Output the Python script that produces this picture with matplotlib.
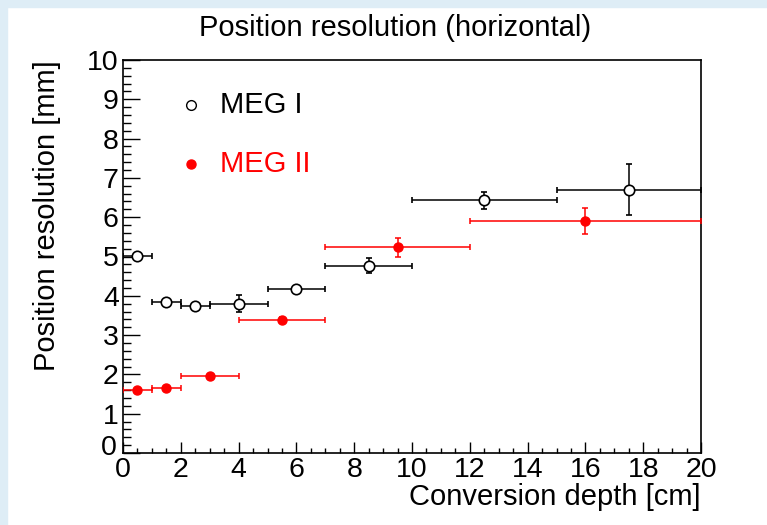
import matplotlib
matplotlib.use("Agg")
from matplotlib import pyplot as plt
from matplotlib.ticker import MultipleLocator, FuncFormatter
import matplotlib.transforms as mtransforms
import numpy as np

plt.rcParams['font.family'] = ['Liberation Sans', 'DejaVu Sans']

# MEG I (open circles)
meg1_x = [0.5, 1.5, 2.5, 4.0, 6.0, 8.5, 12.5, 17.5]
meg1_xerr = [0.5, 0.5, 0.5, 1.0, 1.0, 1.5, 2.5, 2.5]
meg1_y = [5.01, 3.83, 3.75, 3.80, 4.18, 4.76, 6.43, 6.70]
meg1_yerr = [0.05, 0.05, 0.05, 0.22, 0.07, 0.19, 0.22, 0.65]

# MEG II (red filled)
meg2_x = [0.5, 1.5, 3.0, 5.5, 9.5, 16.0]
meg2_xerr = [0.5, 0.5, 1.0, 1.5, 2.5, 4.0]
meg2_y = [1.60, 1.65, 1.97, 3.39, 5.23, 5.91]
meg2_yerr = [0.04, 0.04, 0.05, 0.08, 0.25, 0.335]

W, H = 767, 525
fig = plt.figure(figsize=(W / 100, H / 100), dpi=100)
fig.patch.set_facecolor('white')

# light blue strips at top and left (window frame)
fig.patches.append(plt.Rectangle((0, 1 - 7 / H), 1, 7 / H, transform=fig.transFigure,
                                 color='#deedf6', zorder=0))
fig.patches.append(plt.Rectangle((0, 0), 7 / W, 1, transform=fig.transFigure,
                                 color='#deedf6', zorder=0))

x0, x1, ytop, ybot = 123, 701, 60, 453
ax = fig.add_axes([x0 / W, (H - ybot) / H, (x1 - x0) / W, (ybot - ytop) / H])
ax.set_xlim(0, 20)
ax.set_ylim(0, 10)

ax.errorbar(meg1_x, meg1_y, xerr=meg1_xerr, yerr=meg1_yerr, fmt='o', color='black',
            mfc='white', mec='black', ms=7.5, mew=1.2, elinewidth=1.1, capsize=2,
            capthick=1.1, zorder=3)
ax.errorbar(meg2_x, meg2_y, xerr=meg2_xerr, yerr=meg2_yerr, fmt='o', color='red',
            mfc='red', mec='red', ms=6.5, elinewidth=1.1, capsize=2, capthick=1.1,
            zorder=4)

ax.xaxis.set_major_locator(MultipleLocator(2))
ax.xaxis.set_minor_locator(MultipleLocator(0.5))
ax.yaxis.set_major_locator(MultipleLocator(1))
ax.yaxis.set_minor_locator(MultipleLocator(0.2))
# y "0" is drawn separately, nudged up so it clears the x "0"
ax.yaxis.set_major_formatter(FuncFormatter(lambda v, p: '' if v == 0 else '%g' % v))
ax.tick_params(axis='x', which='major', direction='in', length=8, width=1,
               labelsize=20.5, pad=3)
ax.tick_params(axis='x', which='minor', direction='in', length=3.6, width=1)
ax.tick_params(axis='y', which='major', direction='in', length=12, width=1,
               labelsize=20.5, pad=3)
ax.tick_params(axis='y', which='minor', direction='in', length=6, width=1)
for s in ax.spines.values():
    s.set_linewidth(1.2)

off = mtransforms.ScaledTranslation(-6 / 100, 5 / 100, fig.dpi_scale_trans)
ax.text(0, 0, '0', fontsize=20.5, ha='right', va='center',
        transform=ax.transAxes + off)

fig.text(395 / W, 1 - 28 / H, 'Position resolution (horizontal)', ha='center',
         va='center', fontsize=21)
fig.text(47 / W, 1 - ytop / H, 'Position resolution [mm]', rotation=90,
         ha='center', va='top', fontsize=21)
fig.text(x1 / W, 1 - 497 / H, 'Conversion depth [cm]', ha='right', va='center',
         fontsize=21)

# legend
ax.plot([2.36], [8.86], 'o', mfc='white', mec='black', ms=7, mew=1.0,
        clip_on=False)
ax.text(3.36, 8.86, 'MEG I', fontsize=21, va='center', ha='left')
ax.plot([2.36], [7.36], 'o', mfc='red', mec='red', ms=6.5, clip_on=False)
ax.text(3.36, 7.36, 'MEG II', fontsize=21, va='center', ha='left', color='red')

fig.savefig('out.png', dpi=100)
